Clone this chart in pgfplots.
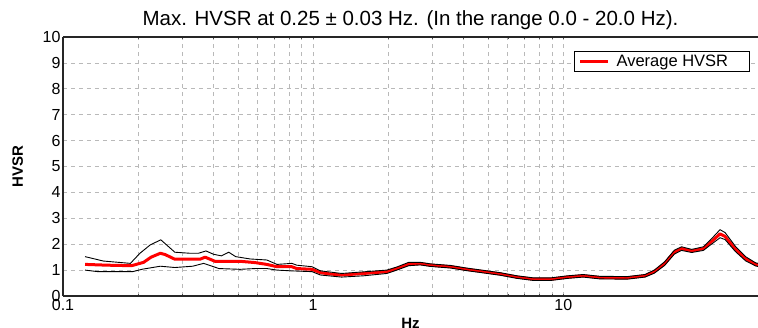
\documentclass[border=0pt]{standalone}
\usepackage{pgfplots}
\pgfplotsset{compat=1.18}
\usepackage{fontspec}
\setmainfont{Liberation Sans}
\definecolor{gridgray}{RGB}{185,185,185}
\begin{document}
\begin{tikzpicture}
\begin{axis}[
  xmode=log, xmin=0.1, xmax=60, ymin=0, ymax=10,
  scale only axis, width=695pt, height=259pt,
  axis x line=box, axis y line=left,
  axis line style={-, line width=1.3pt, black!85},
  xtick={0.1,1,10}, xticklabels={0.1,1,10},
  ytick={0,1,...,10},
  /pgf/number format/assume math mode=true,
  tick label style={font=\fontsize{16}{18}\selectfont},
  yticklabel style={xshift=1pt},
  tick align=inside, major tick length=2pt, minor tick length=2pt,
  tick style={black!70, line width=0.6pt},
  ytick style={draw=none},
  grid=both,
  major grid style={gridgray, dash pattern=on 4pt off 4pt, line width=0.7pt},
  minor grid style={gridgray, dash pattern=on 4pt off 4pt, line width=0.7pt},
  title={Max. HVSR at 0.25 ± 0.03 Hz. (In the range 0.0 - 20.0 Hz).},
  title style={font=\fontsize{20.5}{23}\selectfont, at={(axis description cs:0.5,1)}, anchor=south, yshift=-2.5pt},
  xlabel={\textbf{Hz}}, ylabel={\textbf{HVSR}},
  xlabel style={font=\fontsize{15}{17}\selectfont, at={(axis description cs:0.5,0)}, anchor=north, yshift=-19pt},
  ylabel style={font=\fontsize{15}{17}\selectfont, at={(axis description cs:-0.065,0.5)}, anchor=center},
  legend style={at={(rel axis cs:0.988,0.946)}, anchor=north east, draw=black, line width=1pt,
    font=\fontsize{16.5}{18}\selectfont, inner xsep=4pt, inner ysep=1.5pt, row sep=0pt},
  legend image code/.code={\draw[#1] (0pt,0pt) -- (28pt,0pt);},
  clip=true,
]
\coordinate (A) at (rel axis cs:0,0);
\coordinate (B) at (rel axis cs:1,1);
\addplot[red, line width=3pt, line join=round] coordinates {
(0.1225,1.22) (0.15,1.19) (0.188,1.17) (0.21,1.3) (0.225,1.5) (0.245,1.65) (0.256,1.6)
(0.28,1.42) (0.353,1.42) (0.37,1.5) (0.387,1.42) (0.405,1.34) (0.51,1.34) (0.586,1.29)
(0.653,1.22) (0.717,1.13) (0.822,1.13) (0.86,1.06) (0.99,1.03) (1.07,0.9) (1.17,0.85)
(1.3,0.81) (1.59,0.87) (1.97,0.94) (2.16,1.06) (2.41,1.23) (2.68,1.25) (2.95,1.19)
(3.54,1.13) (4.1,1.03) (4.8,0.94) (5.6,0.85) (6.53,0.73) (7.6,0.65) (8.9,0.65)
(10.4,0.73) (12,0.78) (14,0.71) (18,0.7) (21.2,0.78) (23.1,0.94) (25.4,1.25) (27.8,1.7)
(29.7,1.83) (32.6,1.74) (36.3,1.83) (38.6,2.05) (42.3,2.4) (44.3,2.3) (48.7,1.81)
(53.5,1.44) (58.7,1.22) (60,1.2)
};
\addlegendentry{\rule{5pt}{0pt}Average HVSR\rule{15pt}{0pt}}
\addplot[black, line width=0.9pt, forget plot] coordinates {
(0.1225,1.52) (0.145,1.35) (0.186,1.26) (0.203,1.65) (0.223,1.97) (0.246,2.17) (0.28,1.69)
(0.322,1.65) (0.348,1.65) (0.373,1.74) (0.4,1.61) (0.43,1.55) (0.46,1.69) (0.49,1.52)
(0.56,1.43) (0.653,1.39) (0.717,1.22) (0.822,1.26) (0.86,1.19) (0.99,1.13) (1.07,0.97)
(1.3,0.87) (1.97,1.0) (2.16,1.12) (2.41,1.3) (2.68,1.3) (2.95,1.24) (3.54,1.18) (4.1,1.08)
(4.8,0.99) (5.6,0.9) (6.53,0.78) (7.6,0.7) (8.9,0.7) (10.4,0.78) (12,0.83) (14,0.76)
(18,0.75) (21.2,0.83) (23.1,1.0) (25.4,1.32) (27.8,1.77) (29.7,1.9) (32.6,1.8) (36.3,1.9)
(38.6,2.15) (42.3,2.56) (44.3,2.45) (48.7,1.92) (53.5,1.52) (58.7,1.28) (60,1.26)
};
\addplot[black, line width=0.9pt, forget plot] coordinates {
(0.1225,1.0) (0.138,0.94) (0.19,0.94) (0.209,1.04) (0.245,1.15) (0.28,1.1) (0.33,1.15)
(0.365,1.26) (0.4,1.13) (0.42,1.06) (0.51,1.03) (0.586,1.06) (0.653,1.06) (0.717,1.0)
(0.822,0.97) (0.99,0.94) (1.07,0.81) (1.3,0.73) (1.59,0.78) (1.97,0.87) (2.16,1.0)
(2.41,1.17) (2.68,1.2) (2.95,1.14) (3.54,1.08) (4.1,0.98) (4.8,0.89) (5.6,0.8) (6.53,0.68)
(7.6,0.6) (8.9,0.6) (10.4,0.68) (12,0.73) (14,0.66) (18,0.65) (21.2,0.73) (23.1,0.88)
(25.4,1.18) (27.8,1.62) (29.7,1.76) (32.6,1.68) (36.3,1.76) (38.6,1.96) (42.3,2.25)
(44.3,2.18) (48.7,1.72) (53.5,1.36) (58.7,1.16) (60,1.14)
};
\end{axis}
\pgfresetboundingbox
\path ([xshift=-63pt,yshift=-31.5pt]A) rectangle ([yshift=37pt]B);
\end{tikzpicture}
\end{document}
